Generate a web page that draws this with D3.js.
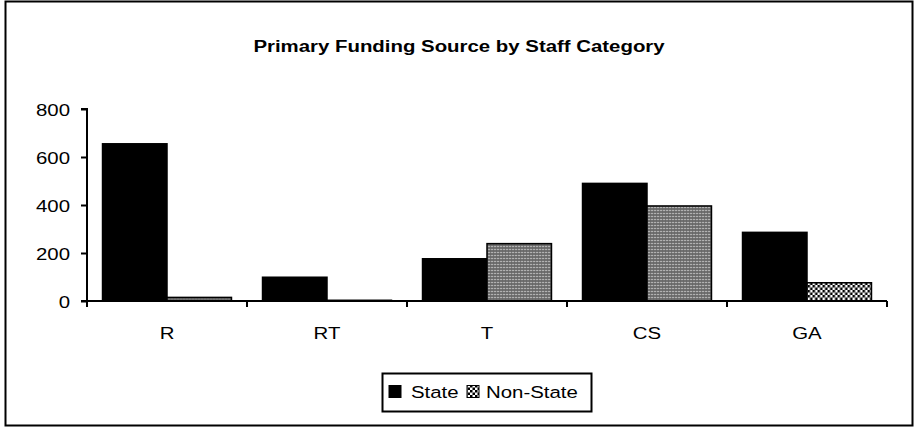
<!DOCTYPE html>
<html>
<head>
<meta charset="utf-8">
<script src="https://cdn.jsdelivr.net/npm/d3@7"></script>
<style>
  html, body { margin: 0; padding: 0; background: #fff; }
  svg { display: block; font-family: "Liberation Sans", Arial, sans-serif; }
</style>
</head>
<body>
<svg id="chart" width="916" height="429"></svg>
<script>
// Staff categories and headcount by primary funding source
const categories = ["R", "RT", "T", "CS", "GA"];
const seriesNames = ["State", "Non-State"];
const stateValues = [655, 99, 176, 490, 286];
const nonStateValues = [15, 3, 239, 396, 76];
const yTicks = [0, 200, 400, 600, 800];

const svg = d3.select("#chart");
const plot = { left: 87, right: 887, top: 109, bottom: 301 };
const FONT = 17, STRETCH = 1.2;

// Draws a horizontally widened text label anchored at (x, y)
function label(parent, x, y, str, anchor, bold) {
  return parent.append("text")
    .attr("transform", `translate(${x},${y}) scale(${STRETCH},1)`)
    .attr("text-anchor", anchor || "start")
    .attr("font-size", FONT)
    .attr("font-weight", bold ? "bold" : "normal")
    .attr("fill", "#000")
    .text(str);
}

// Outer frame
svg.append("rect")
  .attr("x", 5.5).attr("y", 1.5)
  .attr("width", 907).attr("height", 424)
  .attr("fill", "#fff").attr("stroke", "#000").attr("stroke-width", 2);

// Fill patterns for the Non-State series
const defs = svg.append("defs");
const dots = defs.append("pattern")
  .attr("id", "dotFill").attr("patternUnits", "userSpaceOnUse")
  .attr("width", 3).attr("height", 3);
dots.append("rect").attr("width", 3).attr("height", 3).attr("fill", "#7a7a7a");
dots.append("rect").attr("x", 0).attr("y", 0).attr("width", 1).attr("height", 1).attr("fill", "#e8e8e8");
dots.append("rect").attr("x", 1.5).attr("y", 1.5).attr("width", 1).attr("height", 1).attr("fill", "#333");

const checker = defs.append("pattern")
  .attr("id", "checkFill").attr("patternUnits", "userSpaceOnUse")
  .attr("width", 5).attr("height", 5);
checker.append("rect").attr("width", 5).attr("height", 5).attr("fill", "#fff");
checker.append("rect").attr("width", 2.5).attr("height", 2.5).attr("fill", "#000");
checker.append("rect").attr("x", 2.5).attr("y", 2.5).attr("width", 2.5).attr("height", 2.5).attr("fill", "#000");

// Title
label(svg, 459, 52, "Primary Funding Source by Staff Category", "middle", true);

// Scales
const x0 = d3.scaleBand().domain(categories)
  .range([plot.left, plot.right]).paddingInner(0.194).paddingOuter(0.097);
const x1 = d3.scaleBand().domain(seriesNames).range([0, x0.bandwidth()]);
const y = d3.scaleLinear().domain([0, 800]).range([plot.bottom, plot.top]);

const rows = categories.map((c, i) => ({
  category: c,
  values: [
    { series: "State", value: stateValues[i] },
    { series: "Non-State", value: nonStateValues[i] }
  ]
}));

// Bars
const groups = svg.append("g").selectAll("g").data(rows).join("g")
  .attr("transform", d => `translate(${x0(d.category)},0)`);
groups.selectAll("rect").data(d => d.values.map(v => ({ ...v, category: d.category })))
  .join("rect")
  .attr("x", d => x1(d.series))
  .attr("y", d => y(d.value))
  .attr("width", x1.bandwidth())
  .attr("height", d => y(0) - y(d.value))
  .attr("fill", d => d.series === "State" ? "#000"
    : (d.category === "GA" ? "url(#checkFill)" : "url(#dotFill)"))
  .attr("stroke", "#000")
  .attr("stroke-width", 1.5);

// Y axis
const yAxis = d3.axisLeft(y).tickValues(yTicks).tickSize(6).tickFormat("");
const yg = svg.append("g").attr("transform", `translate(${plot.left},0)`).call(yAxis);
yg.select(".domain").attr("stroke-width", 2).attr("d", `M-6,${plot.top}H0V${plot.bottom}`);
yg.selectAll(".tick line").attr("stroke-width", 2);
yg.selectAll(".tick").each(function (d) {
  label(d3.select(this), -17, 6, String(d), "end");
});

// X axis: tick marks at category boundaries, labels at band centres
const xg = svg.append("g");
xg.append("line")
  .attr("x1", plot.left - 6).attr("x2", plot.right)
  .attr("y1", plot.bottom).attr("y2", plot.bottom)
  .attr("stroke", "#000").attr("stroke-width", 2);
const step = x0.step();
const boundaries = d3.range(categories.length + 1).map(i => plot.left + i * step);
xg.selectAll("line.b").data(boundaries).join("line").attr("class", "b")
  .attr("x1", d => d).attr("x2", d => d)
  .attr("y1", plot.bottom).attr("y2", plot.bottom + 6)
  .attr("stroke", "#000").attr("stroke-width", 2);
categories.forEach(c => label(xg, x0(c) + x0.bandwidth() / 2, 339, c, "middle"));

// Legend
const lg = svg.append("g");
lg.append("rect")
  .attr("x", 382.5).attr("y", 373.5).attr("width", 209).attr("height", 38)
  .attr("fill", "#fff").attr("stroke", "#000").attr("stroke-width", 2);
const legendItems = [
  { name: seriesNames[0], sx: 389, tx: 411, fill: "#000" },
  { name: seriesNames[1], sx: 467, tx: 486, fill: "url(#checkFill)" }
];
legendItems.forEach(it => {
  lg.append("rect").attr("x", it.sx).attr("y", 385.5).attr("width", 12).attr("height", 12)
    .attr("fill", it.fill).attr("stroke", "#000").attr("stroke-width", 1);
  label(lg, it.tx, 398, it.name, "start");
});
</script>
</body>
</html>
